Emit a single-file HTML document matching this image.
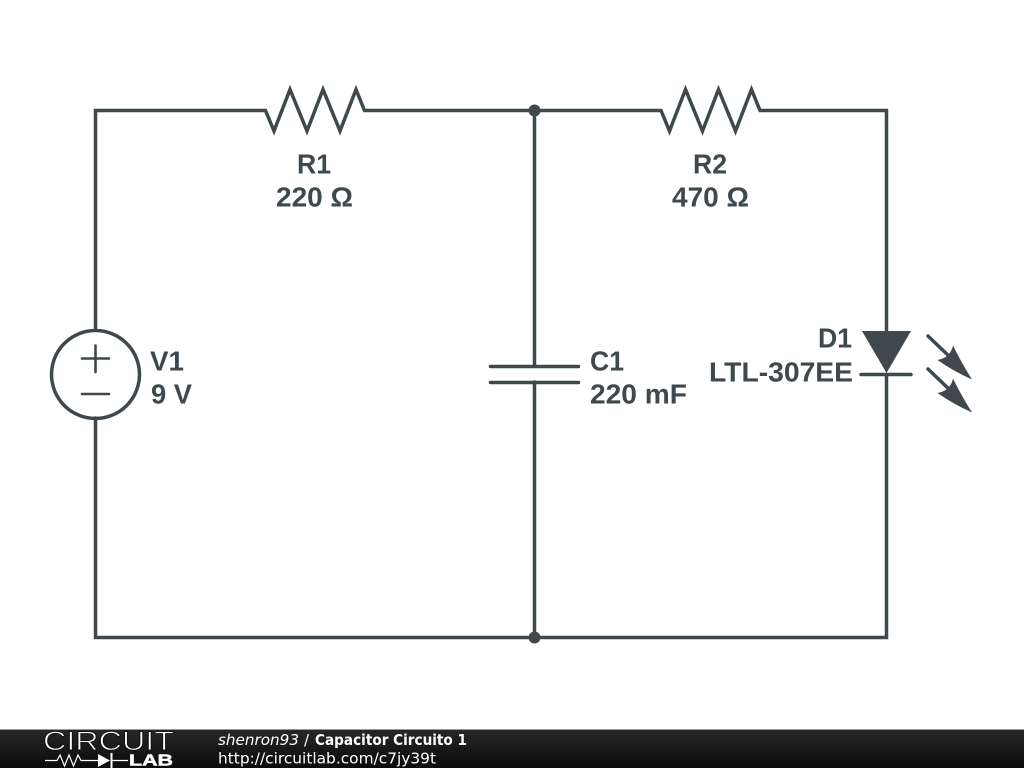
<!DOCTYPE html>
<html><head><meta charset="utf-8"><style>
html,body{margin:0;padding:0;background:#fff;width:1024px;height:768px;overflow:hidden}
svg{display:block}
.l{font-family:"Liberation Sans",sans-serif;font-weight:bold;font-size:28px;fill:#3f484d}
.f{font-family:"DejaVu Sans",sans-serif;font-size:15px;fill:#fff}
</style></head><body>
<svg width="1024" height="768" viewBox="0 0 1024 768" xmlns="http://www.w3.org/2000/svg">
<defs><linearGradient id="g" x1="0" y1="0" x2="0" y2="1"><stop offset="0" stop-color="#282828"/><stop offset="1" stop-color="#0a0a0a"/></linearGradient></defs>
<rect width="1024" height="768" fill="#fff"/>
<g fill="none" stroke="#3f484d" stroke-width="3.5" stroke-linecap="round" stroke-linejoin="miter">
<path d="M95.500 330V110.500H265.500L274 131L290 89.500L307 131L323 89.500L340 131L356 89.500L364.500 110.500H535"/>
<path d="M535 110.500H661L669.500 131L685.500 89.500L702.500 131L718.500 89.500L735.500 131L751.500 89.500L760 110.500H886.500V331"/>
<path d="M886.500 375V637.500H95.500V418"/>
<path d="M534.500 110.500V366M534.500 382V637.500"/>
<path d="M490.500 366.500H578.500M490.500 382.500H578.500"/>
<circle cx="95.500" cy="374.500" r="44"/>
<path d="M928 336L952 359M928 369L952 392"/>
<path d="M861 374.500H911"/>
</g>
<path d="M82 358.500H109M95.500 345.500V372M82 394H109" fill="none" stroke="#3f484d" stroke-width="2.600" stroke-linecap="round"/>
<circle cx="534.500" cy="110.500" r="6" fill="#3f484d"/>
<circle cx="534.500" cy="637.500" r="6" fill="#3f484d"/>
<path d="M862 331H911L886.500 373Z" fill="#3f484d"/>
<path d="M972 379.500Q953 371 937.500 360Q945 358.500 948 355Q952 351 953 345.500Q961 362 972 379.500Z" fill="#3f484d"/>
<path d="M972 412.500Q953 404 937.500 393Q945 391.500 948 388Q952 384 953 378.500Q961 395 972 412.500Z" fill="#3f484d"/>
<text class="l" x="297" y="173.500" textLength="34" lengthAdjust="spacingAndGlyphs">R1</text>
<text class="l" x="276" y="206.500" textLength="77" lengthAdjust="spacingAndGlyphs">220 Ω</text>
<text class="l" x="693" y="173.500" textLength="34" lengthAdjust="spacingAndGlyphs">R2</text>
<text class="l" x="672" y="206.500" textLength="77" lengthAdjust="spacingAndGlyphs">470 Ω</text>
<text class="l" x="150" y="370.500" textLength="34" lengthAdjust="spacingAndGlyphs">V1</text>
<text class="l" x="151" y="403.500" textLength="41" lengthAdjust="spacingAndGlyphs">9 V</text>
<text class="l" x="590" y="370.500" textLength="34" lengthAdjust="spacingAndGlyphs">C1</text>
<text class="l" x="590" y="403.500" textLength="97" lengthAdjust="spacingAndGlyphs">220 mF</text>
<text class="l" x="818" y="347.500" textLength="34" lengthAdjust="spacingAndGlyphs">D1</text>
<text class="l" x="709" y="381.500" textLength="144" lengthAdjust="spacingAndGlyphs">LTL-307EE</text>
<rect x="0" y="729" width="1024" height="39" fill="url(#g)"/>
<rect x="0" y="729" width="1024" height="1" fill="#999"/>
<text x="43" y="750" font-family="Liberation Sans,sans-serif" font-size="27" fill="#fff" stroke="#111" stroke-width=".9" textLength="131" lengthAdjust="spacingAndGlyphs">CIRCUIT</text>
<path d="M45 760.500H57L60 755L64.500 766L69 755L73.500 766L78 755L81 760.500H99M112 760.500H128" fill="none" stroke="#fff" stroke-width="1.200"/>
<path d="M98 754L110 760.500L98 767ZM110.500 753H112.500V768H110.500Z" fill="#fff"/>
<text x="129" y="765.500" font-family="Liberation Sans,sans-serif" font-size="16" font-weight="bold" fill="#fff" stroke="#fff" stroke-width=".5" textLength="44" lengthAdjust="spacingAndGlyphs">LAB</text>
<text class="f" x="218" y="745" font-style="italic" textLength="81" lengthAdjust="spacingAndGlyphs">shenron93</text>
<text class="f" x="304" y="745">/</text>
<text class="f" x="315" y="745" font-weight="bold" textLength="152" lengthAdjust="spacingAndGlyphs">Capacitor Circuito 1</text>
<text class="f" x="218" y="763.500" textLength="218" lengthAdjust="spacingAndGlyphs">http://circuitlab.com/c7jy39t</text>
</svg>
</body></html>
